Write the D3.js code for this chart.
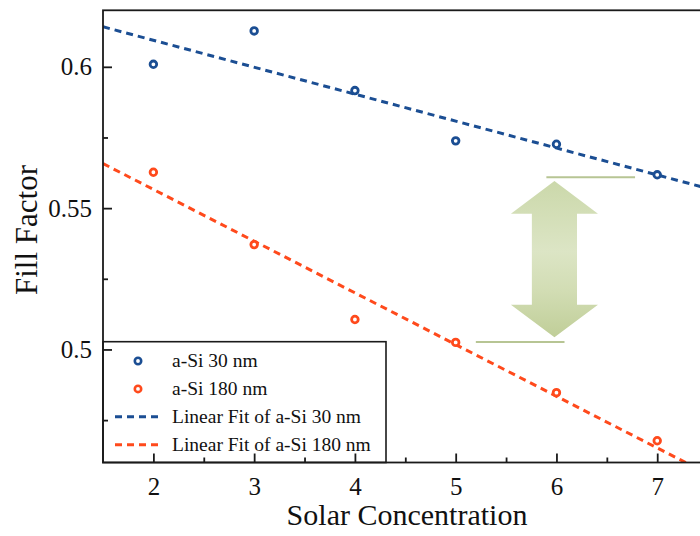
<!DOCTYPE html>
<html>
<head>
<meta charset="utf-8">
<script src="https://cdn.jsdelivr.net/npm/d3@7/dist/d3.min.js"></script>
<style>
  html, body { margin: 0; padding: 0; background: #fff; overflow: hidden; }
  svg { display: block; font-family: "Liberation Serif", "DejaVu Serif", serif; }
</style>
</head>
<body>
<svg id="chart" width="700" height="536"></svg>
<script>
// Solar concentration (suns) and measured fill factor for two absorber thicknesses
const concentration = [2, 3, 4, 5, 6, 7];
const ffThin  = [0.6009, 0.6127, 0.5916, 0.5738, 0.5726, 0.5618]; // a-Si 30 nm
const ffThick = [0.5627, 0.5371, 0.5106, 0.5025, 0.4847, 0.4677]; // a-Si 180 nm

const xMajorTicks = [2, 3, 4, 5, 6, 7];
const xMinorTicks = [2.5, 3.5, 4.5, 5.5, 6.5];
const yMajorTicks = [0.5, 0.55, 0.6];
const yMinorTicks = [0.475, 0.525, 0.575];

const legendLabels = ["a-Si 30 nm", "a-Si 180 nm", "Linear Fit of a-Si 30 nm", "Linear Fit of a-Si 180 nm"];

// Gap annotation (data units): double arrow between the two fits near 6 suns
const gapArrow = { cx: 5.98, top: 0.5596, headTop: 0.548, headBottom: 0.5158, bottom: 0.5043, headHalf: 0.432, shaftHalf: 0.224 };
const gapMarks = [
  { x0: 5.9, x1: 6.78, y: 0.5609 },
  { x0: 5.2, x1: 6.08, y: 0.5026 }
];

const BLUE = "#1b4e93";
const ORANGE = "#ff4a1c";
const AXIS = "#1a1a1a";

const svg = d3.select("#chart");

const x = d3.scaleLinear().domain([1.5, 7.5]).range([103, 707.6]);
const y = d3.scaleLinear().domain([0.46, 0.62]).range([462.5, 10.3]);

const defs = svg.append("defs");
defs.append("clipPath").attr("id", "plotClip")
  .append("rect")
  .attr("x", x(1.5)).attr("y", y(0.62))
  .attr("width", x(7.5) - x(1.5)).attr("height", y(0.46) - y(0.62));

const grad = defs.append("linearGradient").attr("id", "arrowGrad")
  .attr("x1", 0).attr("y1", 0).attr("x2", 0).attr("y2", 1);
grad.append("stop").attr("offset", "0%").attr("stop-color", "#cbd8aa");
grad.append("stop").attr("offset", "45%").attr("stop-color", "#dce5c5");
grad.append("stop").attr("offset", "70%").attr("stop-color", "#d2ddb4");
grad.append("stop").attr("offset", "100%").attr("stop-color", "#c0ce98");

// Least-squares line through each series
function linearFit(xs, ys) {
  const mx = d3.mean(xs), my = d3.mean(ys);
  let sxy = 0, sxx = 0;
  xs.forEach((v, i) => { sxy += (v - mx) * (ys[i] - my); sxx += (v - mx) * (v - mx); });
  const slope = sxy / sxx;
  return { slope, intercept: my - slope * mx };
}

const series = [
  { values: ffThin, color: BLUE },
  { values: ffThick, color: ORANGE }
];

const plot = svg.append("g").attr("clip-path", "url(#plotClip)");

const line = d3.line().x(d => x(d[0])).y(d => y(d[1]));

series.forEach(s => {
  const f = linearFit(concentration, s.values);
  const ends = x.domain().map(v => [v, f.intercept + f.slope * v]);
  plot.append("path")
    .attr("d", line(ends))
    .attr("fill", "none")
    .attr("stroke", s.color)
    .attr("stroke-width", 3)
    .attr("stroke-dasharray", "7,5");
});

series.forEach(s => {
  plot.selectAll(null)
    .data(concentration.map((c, i) => [c, s.values[i]]))
    .join("circle")
    .attr("cx", d => x(d[0]))
    .attr("cy", d => y(d[1]))
    .attr("r", 3.3)
    .attr("fill", "#fff")
    .attr("stroke", s.color)
    .attr("stroke-width", 2.8);
});

// Gap annotation
const a = gapArrow;
const arrowPts = [
  [a.cx, a.top],
  [a.cx + a.headHalf, a.headTop],
  [a.cx + a.shaftHalf, a.headTop],
  [a.cx + a.shaftHalf, a.headBottom],
  [a.cx + a.headHalf, a.headBottom],
  [a.cx, a.bottom],
  [a.cx - a.headHalf, a.headBottom],
  [a.cx - a.shaftHalf, a.headBottom],
  [a.cx - a.shaftHalf, a.headTop],
  [a.cx - a.headHalf, a.headTop]
];
plot.append("path")
  .attr("d", line(arrowPts) + "Z")
  .attr("fill", "url(#arrowGrad)")
  .attr("stroke", "none");

plot.selectAll(null)
  .data(gapMarks)
  .join("line")
  .attr("x1", d => x(d.x0)).attr("x2", d => x(d.x1))
  .attr("y1", d => y(d.y)).attr("y2", d => y(d.y))
  .attr("stroke", "#b7c594")
  .attr("stroke-width", 2);

// Legend
const lg = svg.append("g");
lg.append("rect")
  .attr("x", x(1.5)).attr("y", 341.7)
  .attr("width", 386 - x(1.5)).attr("height", y(0.46) - 341.7)
  .attr("fill", "#fff")
  .attr("stroke", AXIS)
  .attr("stroke-width", 1.6);

const rows = legendLabels.map((t, i) => ({
  text: t,
  color: i % 2 === 0 ? BLUE : ORANGE,
  kind: i < 2 ? "point" : "line",
  baseline: 367 + i * 27.9
}));

rows.forEach(r => {
  const cy = r.baseline - 6;
  if (r.kind === "point") {
    lg.append("circle").attr("cx", 138).attr("cy", cy).attr("r", 3.2)
      .attr("fill", "#fff").attr("stroke", r.color).attr("stroke-width", 2.6);
  } else {
    lg.append("line").attr("x1", 115).attr("x2", 161).attr("y1", cy).attr("y2", cy)
      .attr("stroke", r.color).attr("stroke-width", 3).attr("stroke-dasharray", "7,5");
  }
  lg.append("text").attr("x", 172).attr("y", r.baseline)
    .attr("font-size", 19.5).attr("fill", "#111").text(r.text);
});

// Frame
const frame = svg.append("g").attr("fill", "none").attr("stroke", AXIS).attr("stroke-width", 1.8);
frame.append("rect")
  .attr("x", x(1.5)).attr("y", y(0.62))
  .attr("width", x(7.5) - x(1.5)).attr("height", y(0.46) - y(0.62));

// Axes with inward ticks
const xAxis = svg.append("g").attr("transform", `translate(0,${y(0.46)})`);
xAxis.call(d3.axisBottom(x).tickValues(xMajorTicks).tickSize(-9).tickFormat(d3.format("d")).tickPadding(15));
const xMinor = svg.append("g").attr("transform", `translate(0,${y(0.46)})`);
xMinor.call(d3.axisBottom(x).tickValues(xMinorTicks).tickSize(-5).tickFormat(""));

const yAxis = svg.append("g").attr("transform", `translate(${x(1.5)},0)`);
yAxis.call(d3.axisLeft(y).tickValues(yMajorTicks).tickSize(-9).tickFormat(d => String(+d.toFixed(2))).tickPadding(11));
const yMinor = svg.append("g").attr("transform", `translate(${x(1.5)},0)`);
yMinor.call(d3.axisLeft(y).tickValues(yMinorTicks).tickSize(-5).tickFormat(""));

[xAxis, xMinor, yAxis, yMinor].forEach(g => {
  g.select(".domain").remove();
  g.selectAll(".tick line").attr("stroke", AXIS).attr("stroke-width", 1.8);
  g.selectAll("text")
    .attr("font-family", "Liberation Serif, serif")
    .attr("font-size", 25)
    .attr("fill", "#111");
});

// Axis titles
svg.append("text")
  .attr("x", 407).attr("y", 525)
  .attr("text-anchor", "middle")
  .attr("font-size", 30).attr("fill", "#111")
  .text("Solar Concentration");

svg.append("text")
  .attr("transform", "translate(37,230) rotate(-90)")
  .attr("text-anchor", "middle")
  .attr("font-size", 31).attr("fill", "#111")
  .text("Fill Factor");
</script>
</body>
</html>
